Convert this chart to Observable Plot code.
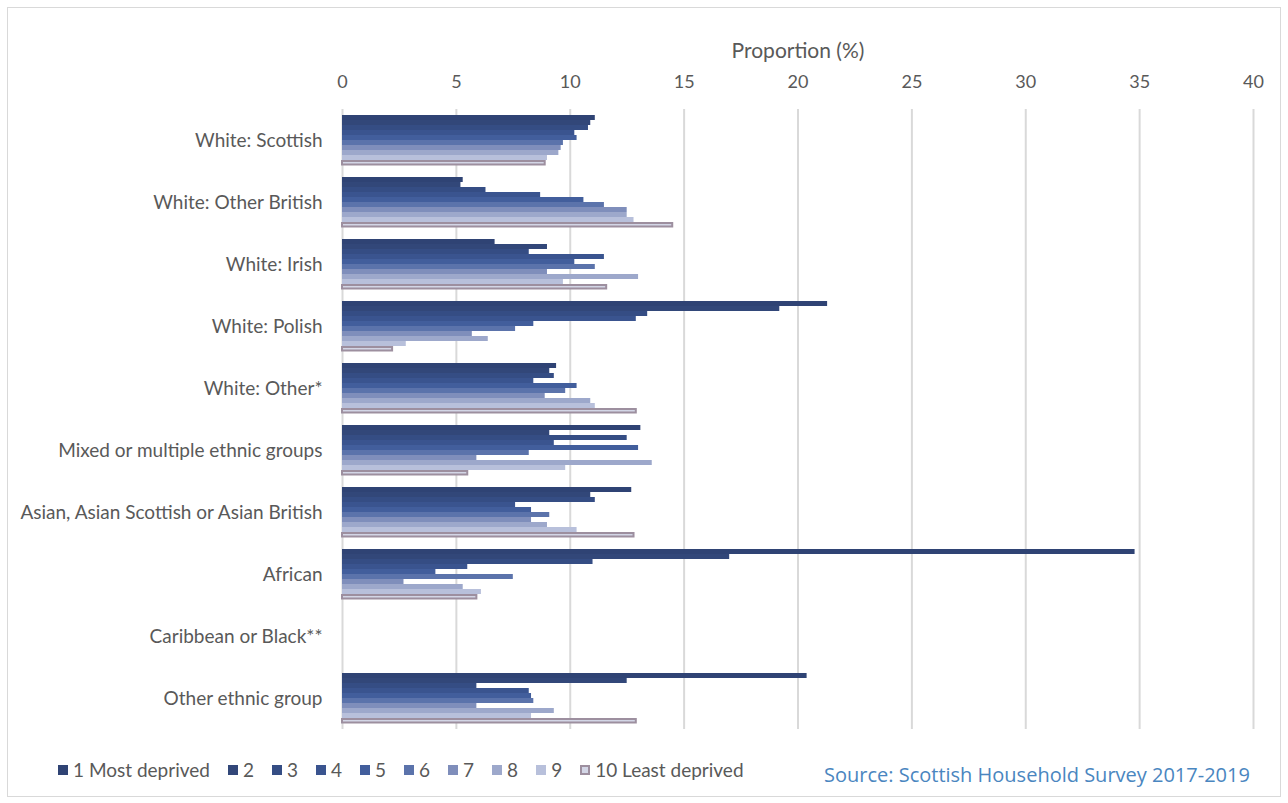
<!DOCTYPE html>
<html><head><meta charset="utf-8">
<script src="https://cdn.jsdelivr.net/npm/d3@7"></script>
<script src="https://cdn.jsdelivr.net/npm/@observablehq/plot@0.6"></script>
<style>
body{margin:0;background:#fff;font-family:Lato,"Open Sans",sans-serif;}
#wrap{position:relative;width:1288px;height:803px;overflow:hidden;background:#fff}
#frame{position:absolute;left:7px;top:7px;width:1274px;height:790px;border:1px solid #d9d9d9;box-sizing:border-box;pointer-events:none}
#chart{position:absolute;left:0;top:0}
#chart g[aria-label="x-axis label"]{font-size:21px !important}
#chart g[aria-label="x-axis label"] text{font-size:21px !important}
#legend{position:absolute;left:58px;top:758px;display:flex;align-items:center;font-size:19px;color:#595959;white-space:nowrap}
#legend .item{display:flex;align-items:center;margin-right:18px}
#legend .sw{width:10px;height:10px;margin-right:5px;box-sizing:border-box}
#source{position:absolute;left:824px;top:761px;color:#4a86c0;font-size:20px;font-family:"Open Sans",sans-serif;white-space:nowrap}
</style></head>
<body>
<div id="wrap">
  <div id="chart"></div>
  <div id="legend"></div>
  <div id="source">Source: Scottish Household Survey 2017-2019</div>
  <div id="frame"></div>
</div>
<script>
const categories = ["White: Scottish","White: Other British","White: Irish","White: Polish","White: Other*","Mixed or multiple ethnic groups","Asian, Asian Scottish or Asian British","African","Caribbean or Black**","Other ethnic group"];
const series = ["1 Most deprived","2","3","4","5","6","7","8","9","10 Least deprived"];
const seriesColors = ["#2F4374","#324779","#354D84","#3A548F","#425E9C","#5B73AB","#7F8EBB","#9DA8CB","#B8C0DB","#D3D6E6"];
const lastOutline = "#9D8F9F";
const xTicks = [0,5,10,15,20,25,30,35,40];

const whiteScottish      = [11.1, 10.9, 10.8, 10.2, 10.3, 9.7, 9.6, 9.5, 9.0, 8.9];
const whiteOtherBritish  = [5.3, 5.2, 6.3, 8.7, 10.6, 11.5, 12.5, 12.5, 12.8, 14.5];
const whiteIrish         = [6.7, 9.0, 8.2, 11.5, 10.2, 11.1, 9.0, 13.0, 9.7, 11.6];
const whitePolish        = [21.3, 19.2, 13.4, 12.9, 8.4, 7.6, 5.7, 6.4, 2.8, 2.2];
const whiteOther         = [9.4, 9.1, 9.3, 8.4, 10.3, 9.8, 8.9, 10.9, 11.1, 12.9];
const mixed              = [13.1, 9.1, 12.5, 9.3, 13.0, 8.2, 5.9, 13.6, 9.8, 5.5];
const asian              = [12.7, 10.9, 11.1, 7.6, 8.3, 9.1, 8.3, 9.0, 10.3, 12.8];
const african            = [34.8, 17.0, 11.0, 5.5, 4.1, 7.5, 2.7, 5.3, 6.1, 5.9];
const caribbeanBlack     = [null, null, null, null, null, null, null, null, null, null];
const otherEthnic        = [20.4, 12.5, 5.9, 8.2, 8.3, 8.4, 5.9, 9.3, 8.3, 12.9];

const valueLists = [whiteScottish, whiteOtherBritish, whiteIrish, whitePolish, whiteOther, mixed, asian, african, caribbeanBlack, otherEthnic];
const data = [];
categories.forEach((c, i) => valueLists[i].forEach((v, j) => {
  data.push({category: c, series: series[j], value: v});
}));
const lastSeries = series[series.length - 1];

const textColor = "#595959";
const chart = Plot.plot({
  width: 1288,
  height: 745,
  marginTop: 101,
  marginBottom: 8,
  marginLeft: 342,
  marginRight: 35,
  style: {fontFamily: "Lato, 'Open Sans', sans-serif", fontSize: "19px", color: textColor, background: "transparent"},
  x: {domain: [0, 40]},
  y: {domain: series, paddingInner: 0, paddingOuter: 1, axis: null},
  fy: {domain: categories, padding: 0, paddingOuter: 0.096},
  color: {domain: series, range: seriesColors},
  marks: [
    Plot.gridX(xTicks, {stroke: "#d9d9d9", strokeOpacity: 1, strokeWidth: 2}),
    Plot.barX(data.filter(d => d.series !== lastSeries), {x: "value", y: "series", fy: "category", fill: "series", insetTop: 0, insetBottom: 0}),
    Plot.barX(data.filter(d => d.series === lastSeries), {x: "value", y: "series", fy: "category", fill: "series", stroke: lastOutline, strokeWidth: 2, insetTop: 1, insetBottom: 0.5}),
    Plot.axisX({anchor: "top", facetAnchor: "top", ticks: xTicks, tickSize: 0, tickPadding: 22, fontSize: 18, fill: textColor,
      label: "Proportion (%)", labelAnchor: "center", labelOffset: 66, labelArrow: false}),
    Plot.axisFy({anchor: "left", tickSize: 0, tickPadding: 20, label: null, fontSize: 19, fill: textColor})
  ]
});
document.getElementById("chart").appendChild(chart);

const legend = document.getElementById("legend");
series.forEach((s, i) => {
  const item = document.createElement("div");
  item.className = "item";
  const sw = document.createElement("div");
  sw.className = "sw";
  sw.style.background = seriesColors[i];
  if (i === series.length - 1) sw.style.border = "2px solid " + lastOutline;
  const t = document.createElement("span");
  t.textContent = s;
  item.appendChild(sw); item.appendChild(t);
  legend.appendChild(item);
});
</script>
</body></html>
